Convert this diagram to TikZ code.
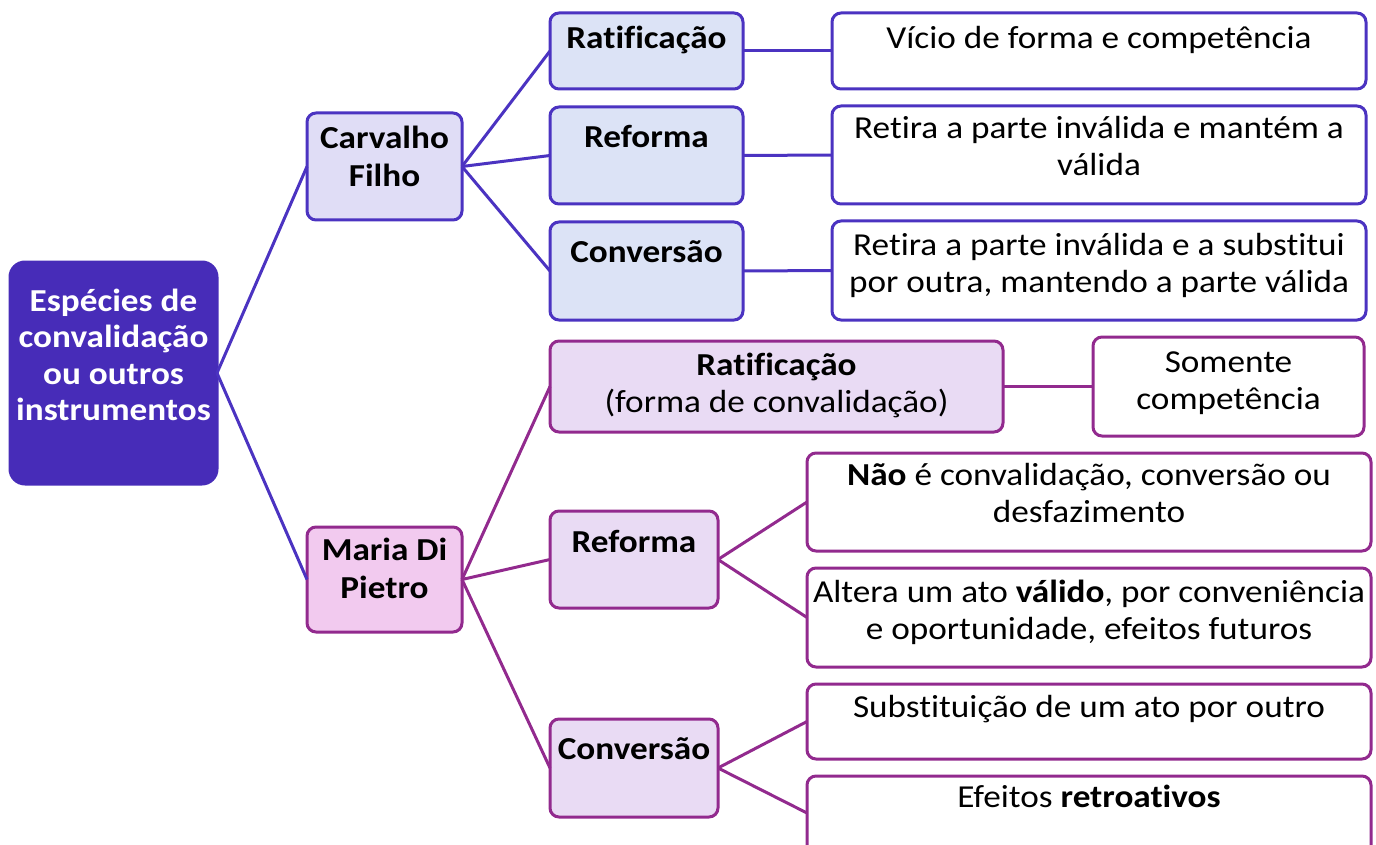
\documentclass[tikz,border=0pt]{standalone}
\usepackage{fontspec}
\setmainfont{Carlito}[FakeStretch=1.1, Ligatures=NoCommon]
\usetikzlibrary{calc}
\definecolor{rootc}{HTML}{472CB8}
\definecolor{bl}{HTML}{4B33C1}
\definecolor{cfA}{HTML}{E0DDF6}
\definecolor{cfB}{HTML}{DCE3F6}
\definecolor{pu}{HTML}{922A8E}
\definecolor{mpA}{HTML}{F2CAEF}
\definecolor{mpB}{HTML}{E9DBF4}
\newcommand\bx[6]{%
  \node[#6, minimum width={(#4)-(#2)}, minimum height={(#5)-(#3)}] (#1) at ({((#2)+(#4))/2},{((#3)+(#5))/2}) {};}
\newcommand\tx[5]{%
  \node[txt,#4] (#1) at (#2,{(#3)-30}) {\rule{0pt}{30pt}#5};}
\tikzset{
  box/.style={draw, line width=3pt, rounded corners=9pt, inner sep=0pt, outer sep=0pt},
  bbox/.style={box, draw=bl},
  pbox/.style={box, draw=pu},
  txt/.style={anchor=north, inner sep=0pt, align=center, font=\fontsize{32}{37}\selectfont},
  bline/.style={draw=bl, line width=3pt},
  pline/.style={draw=pu, line width=3pt},
}
\begin{document}
\begin{tikzpicture}[x=1pt,y=-1pt]
\useasboundingbox (0,0) rectangle (1376,845);
\clip (0,0) rectangle (1376,845);
% boxes
\bx{root}{10}{262}{217}{484}{box, draw=rootc, fill=rootc, rounded corners=15pt}
\bx{cf}{307}{113}{462}{220}{bbox, fill=cfA}
\bx{cfr}{550}{13}{743}{89}{bbox, fill=cfB}
\bx{cfre}{550}{107}{743}{204}{bbox, fill=cfB}
\bx{cfc}{550}{222}{743}{320}{bbox, fill=cfB}
\bx{vf}{832}{13}{1366}{89}{bbox, fill=white}
\bx{ri}{832}{106}{1366}{204}{bbox, fill=white}
\bx{rs}{832}{221}{1366}{320}{bbox, fill=white}
\bx{mp}{307}{527}{462}{632}{pbox, fill=mpA}
\bx{mpr}{550}{341}{1003}{432}{pbox, fill=mpB}
\bx{som}{1093}{337}{1364}{436}{pbox, fill=white}
\bx{mpre}{550}{511}{718}{608}{pbox, fill=mpB}
\bx{nao}{807}{453}{1371}{551}{pbox, fill=white}
\bx{alt}{807}{568}{1371}{667}{pbox, fill=white}
\bx{mpc}{550}{719}{718}{817}{pbox, fill=mpB}
\bx{sub}{807}{684}{1371}{759}{pbox, fill=white}
\bx{efe}{807}{776}{1371}{870}{pbox, fill=white}
\coordinate (efeL) at ($(efe.north west)+(0,37)$);
% connectors
\draw[bline] (root.east) -- (cf.west);
\draw[bline] (root.east) -- (mp.west);
\draw[bline] (cf.east) -- (cfr.west);
\draw[bline] (cf.east) -- (cfre.west);
\draw[bline] (cf.east) -- (cfc.west);
\draw[bline] (cfr.east) -- (vf.west);
\draw[bline] (cfre.east) -- (ri.west);
\draw[bline] (cfc.east) -- (rs.west);
\draw[pline] (mp.east) -- (mpr.west);
\draw[pline] (mp.east) -- (mpre.west);
\draw[pline] (mp.east) -- (mpc.west);
\draw[pline] (mpr.east) -- (som.west);
\draw[pline] (mpre.east) -- (nao.west);
\draw[pline] (mpre.east) -- (alt.west);
\draw[pline] (mpc.east) -- (sub.west);
\draw[pline] (mpc.east) -- (efeL);
% texts
\tx{rootT}{113.5}{311}{text=white, font=\fontsize{32}{36.5}\selectfont\bfseries}{Espécies de\\convalidação\\ou outros\\instrumentos}
\tx{cfT}{384.5}{148}{font=\fontsize{32}{38}\selectfont\bfseries}{Carvalho\\Filho}
\tx{cfrT}{646.5}{48}{font=\fontsize{32}{37}\selectfont\bfseries}{Ratificação}
\tx{cfreT}{646.5}{147}{font=\fontsize{32}{37}\selectfont\bfseries}{Reforma}
\tx{cfcT}{646.5}{262}{font=\fontsize{32}{37}\selectfont\bfseries}{Conversão}
\tx{vfT}{1099}{48}{}{Vício de forma e competência}
\tx{riT}{1099}{138}{}{Retira a parte inválida e mantém a\\válida}
\tx{rsT}{1099}{255}{}{Retira a parte inválida e a substitui\\por outra, mantendo a parte válida}
\tx{mpT}{384.5}{560}{font=\fontsize{32}{38}\selectfont\bfseries}{Maria Di\\Pietro}
\tx{mprT}{776.5}{375}{}{\textbf{Ratificação}\\(forma de convalidação)}
\tx{somT}{1228.5}{372}{}{Somente\\competência}
\tx{mpreT}{634}{552}{font=\fontsize{32}{37}\selectfont\bfseries}{Reforma}
\tx{naoT}{1089}{485}{}{\textbf{Não} é convalidação, conversão ou\\desfazimento}
\tx{altT}{1089}{602}{}{Altera um ato \textbf{válido}, por conveniência\\e oportunidade, efeitos futuros}
\tx{mpcT}{634}{759}{font=\fontsize{32}{37}\selectfont\bfseries}{Conversão}
\tx{subT}{1089}{717}{}{Substituição de um ato por outro}
\tx{efeT}{1089}{807}{}{Efeitos \textbf{retroativos}}
\end{tikzpicture}
\end{document}
